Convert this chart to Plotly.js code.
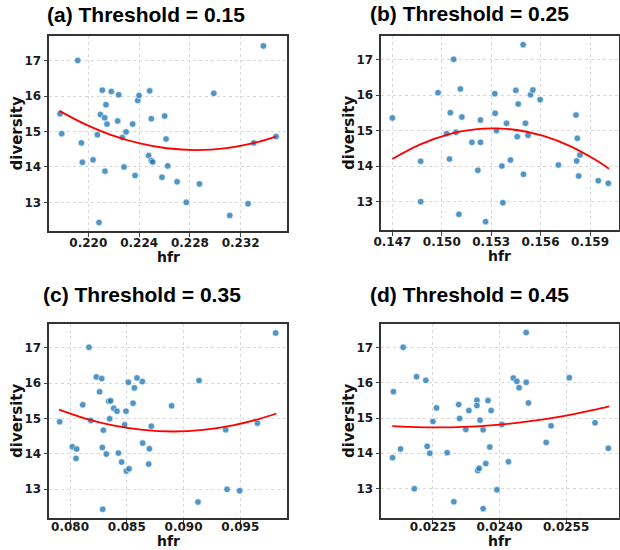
<!DOCTYPE html>
<html>
<head>
<meta charset="utf-8">
<script src="https://cdn.plot.ly/plotly-3.0.1.min.js"></script>
<style>html,body{margin:0;padding:0;background:#fff;}#chart{width:620px;height:550px;}</style>
</head>
<body>
<div id="chart"></div>
<script>
// ---------- data ----------
const panelTitles = ["(a) Threshold = 0.15", "(b) Threshold = 0.25", "(c) Threshold = 0.35", "(d) Threshold = 0.45"];

const hfrA = [0.21777,0.21790,0.21916,0.21945,0.21953,0.22037,0.22071,0.22084,0.22095,0.22110,0.22129,0.22131,0.22139,0.22147,0.22181,0.22231,0.22239,0.22268,0.22281,0.22297,0.22349,0.22368,0.22389,0.22399,0.22475,0.22483,0.22496,0.22496,0.22507,0.22580,0.22601,0.22612,0.22625,0.22699,0.22772,0.22875,0.22988,0.23114,0.23258,0.23303,0.23379,0.23479];
const divA = [15.50,14.94,17.01,14.68,14.13,14.20,14.91,12.43,15.48,16.17,15.39,13.88,15.76,15.21,16.13,15.30,16.04,14.83,14.00,14.99,15.21,13.76,15.88,16.02,14.32,16.15,15.36,14.18,14.14,13.71,15.44,14.79,14.03,13.58,13.00,13.52,16.08,12.63,12.96,14.68,17.42,14.86];
const fitXA = [0.21772,0.21961,0.22171,0.22407,0.22617,0.22848,0.23090,0.23300,0.23479];
const fitYA = [15.585,15.231,14.916,14.664,14.528,14.478,14.533,14.672,14.857];

const hfrB = [0.14700,0.14872,0.14872,0.14977,0.15029,0.15047,0.15052,0.15072,0.15086,0.15104,0.15113,0.15122,0.15183,0.15219,0.15235,0.15235,0.15266,0.15322,0.15324,0.15332,0.15365,0.15371,0.15393,0.15417,0.15450,0.15458,0.15464,0.15494,0.15496,0.15508,0.15524,0.15539,0.15553,0.15597,0.15708,0.15815,0.15819,0.15823,0.15831,0.15839,0.15950,0.16011];
const divB = [15.357,14.136,13.000,16.070,14.915,14.202,15.507,17.009,14.953,12.643,16.174,15.385,14.671,13.883,15.300,14.671,12.437,16.042,15.488,15.000,14.005,12.972,15.207,14.174,16.136,14.831,15.751,17.423,13.770,15.207,14.869,16.014,16.146,15.873,14.033,15.441,14.146,14.784,13.723,14.315,13.592,13.516];
const fitXB = [0.14700,0.14870,0.15052,0.15213,0.15312,0.15456,0.15617,0.15779,0.15940,0.16015];
const fitYB = [14.204,14.615,14.910,15.043,15.066,15.019,14.852,14.564,14.158,13.929];

const hfrC = [0.07909,0.08021,0.08059,0.08053,0.08112,0.08167,0.08182,0.08232,0.08261,0.08279,0.08285,0.08288,0.08294,0.08320,0.08341,0.08349,0.08358,0.08385,0.08414,0.08426,0.08455,0.08481,0.08493,0.08496,0.08520,0.08514,0.08555,0.08567,0.08590,0.08637,0.08640,0.08693,0.08699,0.08716,0.08895,0.09136,0.09127,0.09371,0.09383,0.09494,0.09650,0.09811];
const divC = [14.906,14.198,14.132,13.868,15.387,17.019,14.943,16.179,15.755,16.132,14.179,12.425,14.670,13.991,15.491,14.991,15.500,15.292,15.208,14.019,13.764,14.821,15.208,13.509,13.575,16.028,15.434,15.868,16.151,16.047,14.302,13.708,14.142,14.783,15.358,16.075,12.632,14.679,12.991,12.953,14.868,17.425];
const fitXC = [0.07903,0.08144,0.08379,0.08643,0.08907,0.09171,0.09435,0.09670,0.09817];
const fitYC = [15.254,14.992,14.804,14.675,14.632,14.675,14.804,14.992,15.142];

const hfrD = [0.02159,0.02161,0.02177,0.02183,0.02208,0.02213,0.02234,0.02237,0.02243,0.02250,0.02258,0.02282,0.02297,0.02308,0.02310,0.02324,0.02331,0.02349,0.02349,0.02351,0.02354,0.02356,0.02363,0.02363,0.02369,0.02374,0.02378,0.02381,0.02394,0.02405,0.02420,0.02431,0.02439,0.02444,0.02460,0.02460,0.02465,0.02505,0.02516,0.02557,0.02615,0.02645];
const divD = [13.875,15.748,14.120,17.009,12.991,16.172,16.068,14.195,13.998,14.901,15.287,14.016,12.624,15.381,14.986,14.675,15.212,15.504,15.353,13.508,13.574,14.939,14.666,12.426,13.706,15.494,14.176,15.212,12.962,14.816,13.762,16.134,16.040,15.861,17.424,16.012,15.428,14.308,14.779,16.144,14.864,14.139];
const fitXD = [0.021585,0.021990,0.022590,0.023190,0.023790,0.024390,0.024990,0.025590,0.026115,0.026468];
const fitYD = [14.772,14.746,14.732,14.746,14.789,14.862,14.962,15.091,15.229,15.333];

const xTickValsA = [0.220,0.224,0.228,0.232], xTickTextA = ["0.220","0.224","0.228","0.232"];
const xTickValsB = [0.147,0.150,0.153,0.156,0.159], xTickTextB = ["0.147","0.150","0.153","0.156","0.159"];
const xTickValsC = [0.080,0.085,0.090,0.095], xTickTextC = ["0.080","0.085","0.090","0.095"];
const xTickValsD = [0.0225,0.0240,0.0255], xTickTextD = ["0.0225","0.0240","0.0255"];
const yTickVals = [13,14,15,16,17], yTickText = ["13","14","15","16","17"];

// ---------- build ----------
const W = 620, H = 550;
const panels = [
  {x: hfrA, y: divA, fx: fitXA, fy: fitYA, tv: xTickValsA, tt: xTickTextA, px: [49, 287], py: [36, 231], xr: [0.2169, 0.23565], yr: [12.19, 17.70], title: [146, 14], bottomRow: false},
  {x: hfrB, y: divB, fx: fitXB, fy: fitYB, tv: xTickValsB, tt: xTickTextB, px: [381, 619], py: [36, 230], xr: [0.14631, 0.16076], yr: [12.202, 17.667], title: [469, 13], bottomRow: false},
  {x: hfrC, y: divC, fx: fitXC, fy: fitYC, tv: xTickValsC, tt: xTickTextC, px: [49, 287], py: [324, 518], xr: [0.07815, 0.09911], yr: [12.179, 17.679], title: [142, 294], bottomRow: true},
  {x: hfrD, y: divD, fx: fitXD, fy: fitYD, tv: xTickValsD, tt: xTickTextD, px: [381, 619], py: [324, 518], xr: [0.02133, 0.02669], yr: [12.162, 17.668], title: [469, 294], bottomRow: true}
];

const tickFont = {family: "DejaVu Sans", size: 12, color: "#1a1a1a", weight: "bold"};
const labFont = {family: "DejaVu Sans", size: 15, color: "#111", weight: "bold"};
const hfrFont = {family: "DejaVu Sans", size: 14, color: "#111", weight: "bold"};
const titleFont = {family: "Liberation Sans, Arial", size: 21, color: "#000", weight: "bold"};

const data = [];
const layout = {
  width: W, height: H, autosize: false,
  margin: {l: 0, r: 0, t: 0, b: 0},
  paper_bgcolor: "#fff", plot_bgcolor: "#fff",
  showlegend: false, annotations: []
};

panels.forEach((p, i) => {
  const n = i === 0 ? "" : String(i + 1);
  const xa = "x" + n, ya = "y" + n;
  data.push({
    type: "scatter", mode: "markers", x: p.x, y: p.y, xaxis: xa, yaxis: ya,
    marker: {size: 6.5, color: "rgba(31,119,180,0.78)", line: {color: "#fff", width: 0.6}},
    hoverinfo: "skip"
  });
  data.push({
    type: "scatter", mode: "lines", x: p.fx, y: p.fy, xaxis: xa, yaxis: ya,
    line: {color: "#ff0000", width: 1.8, shape: "spline"}, hoverinfo: "skip"
  });
  layout["xaxis" + n] = {
    domain: [p.px[0] / W, p.px[1] / W], anchor: ya, range: p.xr,
    tickmode: "array", tickvals: p.tv, ticktext: p.tt,
    showgrid: true, gridcolor: "#d9d9d9", griddash: "dot", gridwidth: 1,
    zeroline: false, showline: true, mirror: true, linecolor: "#333", linewidth: 2,
    ticks: "outside", ticklen: 3.5, tickcolor: "#444", tickwidth: 1,
    ticklabelstandoff: p.bottomRow ? -7 : -4,
    tickfont: tickFont
  };
  layout["yaxis" + n] = {
    domain: [1 - p.py[1] / H, 1 - p.py[0] / H], anchor: xa, range: p.yr,
    tickmode: "array", tickvals: yTickVals, ticktext: yTickText,
    showgrid: true, gridcolor: "#d9d9d9", griddash: "dot", gridwidth: 1,
    zeroline: false, showline: true, mirror: true, linecolor: "#333", linewidth: 2,
    ticks: "outside", ticklen: 3.5, tickcolor: "#444", tickwidth: 1,
    tickfont: tickFont
  };
  layout.annotations.push({
    text: panelTitles[i], xref: "paper", yref: "paper",
    x: p.title[0] / W, y: 1 - p.title[1] / H, xanchor: "center", yanchor: "middle",
    showarrow: false, font: titleFont
  });
  layout.annotations.push({
    text: "hfr", xref: "paper", yref: "paper",
    x: (p.px[0] + p.px[1]) / 2 / W,
    y: p.bottomRow ? 0 : 1 - (p.py[1] + 17) / H,
    xanchor: "center", yanchor: p.bottomRow ? "bottom" : "top",
    borderpad: 0, showarrow: false, font: hfrFont
  });
  layout.annotations.push({
    text: "diversity", xref: "paper", yref: "paper", textangle: -90,
    x: (p.px[0] - 32) / W, y: 1 - (p.py[0] + p.py[1]) / 2 / H, xanchor: "center", yanchor: "middle",
    showarrow: false, font: labFont
  });
});

Plotly.newPlot("chart", data, layout, {staticPlot: true, displayModeBar: false});
</script>
</body>
</html>
